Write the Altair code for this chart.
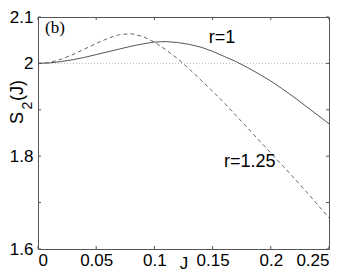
import altair as alt
import pandas as pd

# ---- data ----
J = [0.00, 0.01, 0.02, 0.03, 0.04, 0.05, 0.06, 0.07, 0.08, 0.09, 0.10, 0.11, 0.12,
     0.13, 0.14, 0.15, 0.16, 0.17, 0.18, 0.19, 0.20, 0.21, 0.22, 0.23, 0.24, 0.25]
S_r1 = [2.000, 2.001, 2.004, 2.008, 2.013, 2.019, 2.025, 2.031, 2.037, 2.042, 2.046, 2.047, 2.045,
        2.041, 2.035, 2.026, 2.015, 2.004, 1.991, 1.977, 1.962, 1.945, 1.927, 1.908, 1.889, 1.870]
S_r125 = [2.000, 2.002, 2.009, 2.019, 2.031, 2.043, 2.054, 2.062, 2.064, 2.058, 2.046, 2.029, 2.010,
          1.988, 1.964, 1.940, 1.915, 1.888, 1.861, 1.834, 1.807, 1.780, 1.753, 1.725, 1.696, 1.667]

x_ticks = [0, 0.05, 0.1, 0.15, 0.2, 0.25]
y_ticks = [1.6, 1.7, 1.8, 1.9, 2.0, 2.1]
y_labels = [1.6, 1.8, 2.0, 2.1]

ann_text = ["r=1", "r=1.25"]
ann_J = [0.158, 0.182]
ann_S = [2.043, 1.777]

panel_text = ["(b)"]
panel_J = [0.0146]
panel_S = [2.076]

ref_level = [2.0]

# y-axis title pieces: S, subscript 2, (J)
title_parts = ["S", "2", "(J)"]

W, H = 291, 232
FONT = "Liberation Sans"
AXC = "#555555"
TK = 3

df = pd.DataFrame({"J": J, "r1": S_r1, "r125": S_r125})
xs = alt.Scale(domain=[0, 0.25], nice=False, zero=False)
ys = alt.Scale(domain=[1.6, 2.1], nice=False, zero=False)

xaxis = alt.Axis(values=x_ticks, format="~g", ticks=False, domain=False, grid=False,
                 labelFont=FONT, labelFontSize=17, labelColor="black", labelPadding=3,
                 title="J", titleFont=FONT, titleFontSize=17, titleFontWeight="normal",
                 titleColor="black", titleY=19, titleBaseline="alphabetic")
yaxis = alt.Axis(values=y_labels, format="~g", ticks=False, domain=False, grid=False,
                 labelFont=FONT, labelFontSize=17, labelColor="black", labelPadding=5,
                 title=None)

base = alt.Chart(df)

dotted = alt.Chart(pd.DataFrame({"S": ref_level})).mark_rule(
    color="#bbbbbb", strokeDash=[1, 2], strokeWidth=1
).encode(y=alt.Y("S:Q", scale=ys, axis=yaxis))

line1 = base.mark_line(color="#555555", strokeWidth=1).encode(
    x=alt.X("J:Q", scale=xs, axis=xaxis),
    y=alt.Y("r1:Q", scale=ys, axis=yaxis),
)
line2 = base.mark_line(color="#666666", strokeWidth=1, strokeDash=[4, 3]).encode(
    x=alt.X("J:Q", scale=xs, axis=xaxis),
    y=alt.Y("r125:Q", scale=ys, axis=yaxis),
)

xt = alt.Chart(pd.DataFrame({"t": x_ticks}))
yt = alt.Chart(pd.DataFrame({"t": y_ticks}))
tb = xt.mark_rule(color=AXC).encode(x=alt.X("t:Q", scale=xs, axis=xaxis),
                                     y=alt.value(H), y2=alt.value(H - TK))
tt = xt.mark_rule(color=AXC).encode(x=alt.X("t:Q", scale=xs, axis=xaxis),
                                     y=alt.value(0), y2=alt.value(TK))
tl = yt.mark_rule(color=AXC).encode(y=alt.Y("t:Q", scale=ys, axis=yaxis),
                                     x=alt.value(0), x2=alt.value(TK))
tr = yt.mark_rule(color=AXC).encode(y=alt.Y("t:Q", scale=ys, axis=yaxis),
                                     x=alt.value(W), x2=alt.value(W - TK))

ann = alt.Chart(pd.DataFrame({"J": ann_J, "S": ann_S, "txt": ann_text})).mark_text(
    font=FONT, fontSize=18, color="black", align="center", baseline="alphabetic"
).encode(x=alt.X("J:Q", scale=xs, axis=xaxis), y=alt.Y("S:Q", scale=ys, axis=yaxis), text="txt:N")

panel = alt.Chart(pd.DataFrame({"J": panel_J, "S": panel_S, "txt": panel_text})).mark_text(
    font="Liberation Serif", fontSize=17, color="black", align="center", baseline="middle"
).encode(x=alt.X("J:Q", scale=xs, axis=xaxis), y=alt.Y("S:Q", scale=ys, axis=yaxis), text="txt:N")

tdf = pd.DataFrame({"p": title_parts})
tS = alt.Chart(tdf).transform_filter(alt.datum.p == "S").mark_text(
    font=FONT, fontSize=18, color="black", angle=270, align="center", baseline="middle"
).encode(text="p:N", x=alt.value(-20.5), y=alt.value(101))
t2 = alt.Chart(tdf).transform_filter(alt.datum.p == "2").mark_text(
    font=FONT, fontSize=14, color="black", angle=270, align="center", baseline="middle"
).encode(text="p:N", x=alt.value(-10), y=alt.value(88.5))
tJ = alt.Chart(tdf).transform_filter(alt.datum.p == "(J)").mark_text(
    font=FONT, fontSize=18, color="black", angle=270, align="center", baseline="middle"
).encode(text="p:N", x=alt.value(-20.5), y=alt.value(73.5))

chart = alt.layer(dotted, line1, line2, tb, tt, tl, tr, ann, panel, tS, t2, tJ).properties(
    width=W, height=H,
    autosize=alt.AutoSizeParams(type="none"),
    padding={"left": 30, "top": 9, "right": 17, "bottom": 23},
).configure_view(stroke=AXC, strokeWidth=1)

chart.save("out.html", embed_options={"renderer": "svg", "actions": False})
